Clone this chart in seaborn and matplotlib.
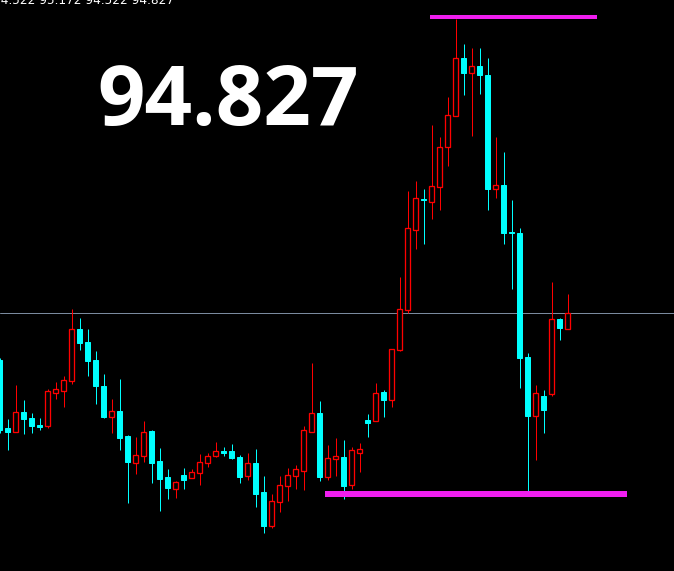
import numpy as np
import pandas as pd
import matplotlib
matplotlib.use("Agg")
import matplotlib.pyplot as plt
import seaborn as sns

# ---- data ----
opens = [93.950, 92.692, 92.618, 92.988, 92.877, 92.748, 92.729, 93.340, 93.377, 93.562,
         94.524, 94.283, 93.950, 93.469, 92.896, 93.007, 92.544, 92.045, 92.174, 92.637,
         92.082, 91.786, 91.564, 91.823, 91.767, 91.860, 92.045, 92.174, 92.267, 92.267,
         92.156, 91.804, 92.045, 91.508, 90.879, 91.323, 91.619, 91.804, 91.897, 92.618,
         92.970, 91.786, 92.119, 92.156, 91.638, 92.230, 92.840, 92.822, 93.358, 93.210,
         94.135, 94.875, 96.355, 96.929, 96.873, 97.151, 97.891, 98.464, 99.537, 99.260,
         99.389, 99.223, 97.114, 97.188, 96.318, 96.300, 94.006, 92.914, 93.284, 93.321,
         94.709, 94.524]
highs = [93.987, 92.859, 93.488, 93.210, 92.970, 92.877, 93.414, 93.543, 93.654, 94.894,
         94.727, 94.524, 94.117, 93.691, 93.229, 93.599, 92.563, 92.526, 92.822, 92.655,
         92.322, 91.934, 91.712, 91.952, 91.934, 92.211, 92.230, 92.433, 92.341, 92.396,
         92.193, 92.230, 92.304, 91.804, 91.471, 91.804, 91.952, 92.008, 92.729, 93.895,
         93.192, 92.378, 92.507, 92.470, 92.341, 92.415, 92.951, 93.525, 93.395, 94.154,
         95.486, 97.077, 97.262, 97.114, 98.298, 98.076, 98.816, 100.259, 99.796, 99.722,
         99.722, 99.537, 98.076, 97.798, 96.910, 96.392, 94.080, 93.488, 93.395, 95.393,
         94.727, 95.171]
lows = [92.600, 92.285, 92.618, 92.581, 92.600, 92.655, 92.692, 93.229, 93.081, 93.506,
        94.135, 93.654, 93.136, 92.877, 92.600, 92.285, 91.305, 91.841, 92.063, 91.675,
        91.157, 91.379, 91.397, 91.564, 91.767, 91.638, 91.971, 92.156, 92.174, 92.119,
        91.675, 91.730, 91.231, 90.750, 90.842, 91.138, 91.342, 91.564, 91.545, 92.618,
        91.712, 91.730, 91.804, 91.379, 91.564, 91.878, 92.526, 92.822, 92.896, 93.081,
        94.117, 94.820, 96.004, 96.096, 96.559, 96.725, 97.539, 98.464, 98.853, 98.094,
        98.871, 96.725, 96.947, 96.096, 95.264, 93.432, 91.527, 92.100, 92.600, 93.284,
        94.320, 94.524]
closes = [92.655, 92.618, 92.988, 92.859, 92.729, 92.711, 93.377, 93.414, 93.580, 94.524,
          94.265, 93.932, 93.469, 92.896, 93.007, 92.507, 92.063, 92.193, 92.618, 92.045,
          91.749, 91.582, 91.693, 91.730, 91.878, 92.063, 92.174, 92.267, 92.230, 92.137,
          91.786, 92.045, 91.471, 90.879, 91.342, 91.638, 91.823, 91.934, 92.655, 92.970,
          91.786, 92.137, 92.174, 91.619, 92.285, 92.304, 92.785, 93.340, 93.210, 94.154,
          94.894, 96.392, 96.947, 96.910, 97.169, 97.891, 98.483, 99.537, 99.260, 99.389,
          99.223, 97.114, 97.188, 96.300, 96.300, 93.987, 92.914, 93.340, 93.025, 94.709,
          94.542, 94.827]

ohlc_label = "94.522 95.172 94.522 94.827"
price_label = "94.827"
bid_price = 94.827

# horizontal level objects: (price, start bar, end bar)
level_prices = [100.296, 91.471]
level_starts = [53.81, 40.69]
level_ends = [74.69, 78.44]

# ---- styling ----
BULL = "#ff0000"
BEAR = "#00ffff"
LEVEL = "#f01ef0"
BID = "#7a8a9e"
PX = 72 / 100.0  # one pixel in points

sns.set_theme(style="dark", rc={"axes.facecolor": "black", "figure.facecolor": "black"})
plt.rcParams["font.family"] = ["DejaVu Sans"]

df = pd.DataFrame({"open": opens, "high": highs, "low": lows, "close": closes})
df["bar"] = np.arange(len(df))
df["up"] = df["close"] >= df["open"]

fig = plt.figure(figsize=(6.74, 5.71), dpi=100)
ax = fig.add_axes([0, 0, 1, 1])
ax.set_facecolor("black")

# bid line
ax.axhline(bid_price, color=BID, lw=PX, zorder=1)

# wicks
for up, grp in df.groupby("up"):
    ax.vlines(grp["bar"], grp["low"], grp["high"], colors=BULL if up else BEAR,
              lw=PX, zorder=2)

# bodies
bw = 0.55
up = df[df["up"]]
dn = df[~df["up"]]
ax.bar(dn["bar"], dn["open"] - dn["close"], bottom=dn["close"], width=bw,
       color=BEAR, edgecolor=BEAR, linewidth=PX, zorder=3)
ax.bar(up["bar"], up["close"] - up["open"], bottom=up["open"], width=bw,
       color="black", edgecolor=BULL, linewidth=PX * 1.3, zorder=3)

# magenta levels via seaborn
lv = pd.DataFrame({
    "x": [v for s, e in zip(level_starts, level_ends) for v in (s, e)],
    "y": [p for p in level_prices for _ in range(2)],
    "id": [i for i in range(len(level_prices)) for _ in range(2)],
})
sns.lineplot(data=lv[lv["id"] == 0], x="x", y="y", color=LEVEL, lw=4 * PX, ax=ax,
             zorder=4, solid_capstyle="butt", legend=False)
sns.lineplot(data=lv[lv["id"] == 1], x="x", y="y", color=LEVEL, lw=6 * PX, ax=ax,
             zorder=4, solid_capstyle="butt", legend=False)

ax.set_xlim(0.0625, 84.3125)
ax.set_ylim(90.0465, 100.61)
ax.set_axis_off()

# texts
fig.text(-7 / 674, 1 - 4 / 571, ohlc_label, color="white", fontsize=8.7,
         va="baseline", ha="left")
fig.text(97 / 674, 1 - 125 / 571, price_label, color="white", fontsize=60,
         va="baseline", ha="left", fontweight="bold", family=["Open Sans", "DejaVu Sans"])

fig.savefig("out.png", dpi=100, facecolor="black")
